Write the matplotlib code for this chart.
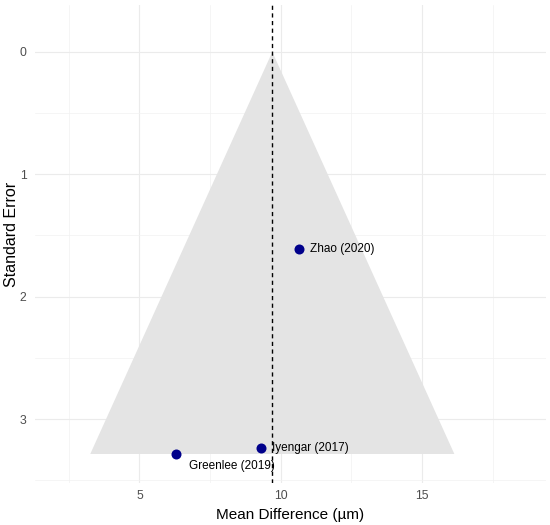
import numpy as np
import matplotlib
matplotlib.use('Agg')
import matplotlib.pyplot as plt
from matplotlib.ticker import MultipleLocator

# study data
studies = ['Greenlee (2019)', 'Iyengar (2017)', 'Zhao (2020)']
mean_diff = [6.30, 9.31, 10.63]
std_err = [3.285, 3.236, 1.613]
pooled = 9.70

plt.rcParams['font.family'] = ['Liberation Sans', 'DejaVu Sans']

fig = plt.figure(figsize=(5.5, 5.25), dpi=100)
ax = fig.add_axes([35 / 550, 1 - 483 / 525, 511 / 550, 478 / 525])

# funnel region
se_max = max(std_err)
ax.fill([pooled - 1.96 * se_max, pooled, pooled + 1.96 * se_max],
        [se_max, 0, se_max], color='#E4E4E4', lw=0, zorder=1)

# pooled estimate
ax.axvline(pooled, color='black', lw=1.0, dashes=(3.0, 2.5), zorder=3)

# studies
ax.scatter(mean_diff, std_err, s=52, color='#00008B', zorder=4, lw=0)
offsets = [(9, -9), (8, 0), (8, 0)]
for name, x, y, off in zip(studies, mean_diff, std_err, offsets):
    ax.annotate(name, (x, y), xytext=off, textcoords='offset points',
                ha='left', va='center', fontsize=8.5, color='black', zorder=5)

# axes, minimal theme
ax.set_xlim(1.307, 19.38)
ax.set_ylim(3.522, -0.383)
ax.xaxis.set_major_locator(MultipleLocator(5))
ax.xaxis.set_minor_locator(MultipleLocator(2.5))
ax.yaxis.set_major_locator(MultipleLocator(1))
ax.yaxis.set_minor_locator(MultipleLocator(0.5))
ax.grid(which='major', color='#EBEBEB', lw=0.8, zorder=0)
ax.grid(which='minor', color='#F2F2F2', lw=0.5, zorder=0)
ax.set_axisbelow(True)
for s in ax.spines.values():
    s.set_visible(False)
ax.tick_params(which='both', length=0, labelsize=8.8, labelcolor='#4D4D4D')
ax.tick_params(axis='x', pad=5)
ax.tick_params(axis='y', pad=6)

ax.set_xlabel('Mean Difference (µm)', fontsize=11, labelpad=4)
ax.set_ylabel('Standard Error', fontsize=11.5)
ax.yaxis.set_label_coords(-0.032, 0.519)

fig.savefig('out.png', dpi=100, facecolor='white')
